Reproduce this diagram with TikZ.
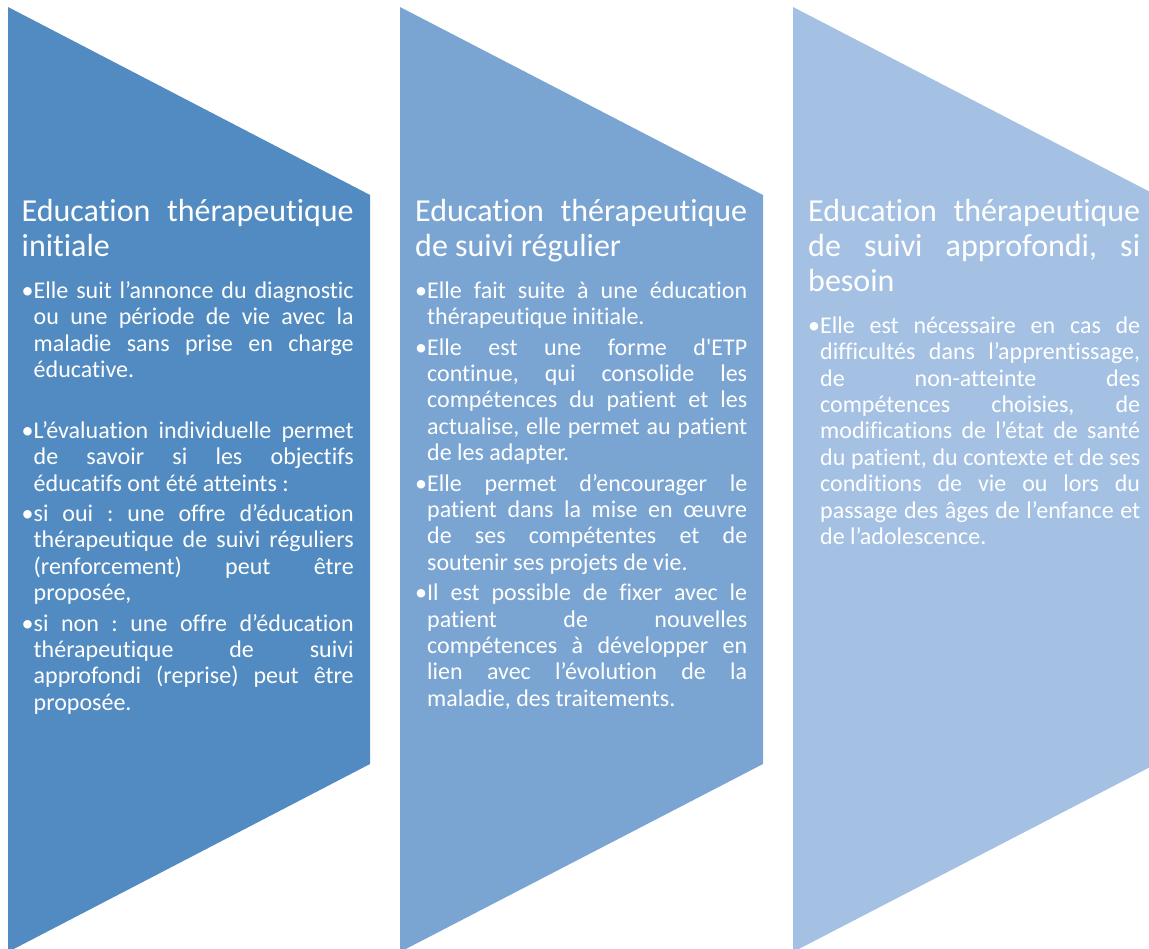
\documentclass[tikz,border=0pt]{standalone}
\usepackage{fontspec}
\setmainfont{Carlito}[Ligatures={TeXOff,NoCommon}]
\definecolor{shA}{RGB}{82,139,193}
\definecolor{shB}{RGB}{122,165,210}
\definecolor{shC}{RGB}{164,193,228}
\newcommand\zTJ[1]{\hbox to\hsize{\spaceskip=\fontdimen2\font plus 1fil\relax#1}}
\newcommand\zTN[1]{\hbox{#1}}
\newcommand\zBJ[1]{\hbox to\hsize{\hskip12pt\spaceskip=\fontdimen2\font plus 1fil\relax#1}}
\newcommand\zBN[1]{\hbox{\hskip12pt#1}}
\newcommand\zBul{\hbox to 12pt{•\hss}}
\newcommand\zFJ[1]{\hbox to\hsize{\zBul\spaceskip=\fontdimen2\font plus 1fil\relax#1}}
\newcommand\zFN[1]{\hbox{\zBul#1}}
\newcommand\zTitle{\fontsize{32}{35}\selectfont}
\newcommand\zBody{\fontsize{24}{26.4}\selectfont}
\tikzset{
  chev/.style={draw=none},
  coltext/.style={anchor=base west, inner sep=0pt, text=white}
}
\frenchspacing
\begin{document}
\frenchspacing
\begin{tikzpicture}[x=1pt,y=-1pt]
\useasboundingbox (0,0) rectangle (1149,949);
\clip (0,0) rectangle (1149,949);
\fill[shA] (8,7) -- (370,195) -- (370,764) -- (8,952) -- cycle;
\fill[shB] (400,7) -- (763,195) -- (763,764) -- (400,952) -- cycle;
\fill[shC] (793,7) -- (1156,195) -- (1156,764) -- (793,952) -- cycle;

\node[coltext] (c1) at (21.5,222) {\parbox[t]{332pt}{%
\frenchspacing
\zTitle
\zTJ{Education thérapeutique}
\zTN{initiale}
\zBody
\vskip15pt
\zFJ{Elle suit l’annonce du diagnostic}
\zBJ{ou une période de vie avec la}
\zBJ{maladie sans prise en charge}
\zBN{éducative.}
\vskip34.4pt
\zFJ{L’évaluation individuelle permet}
\zBJ{de savoir si les objectifs}
\zBN{éducatifs ont été atteints :}
\vskip4pt
\zFJ{si oui : une offre d’éducation}
\zBJ{thérapeutique de suivi réguliers}
\zBJ{(renforcement) peut être}
\zBN{proposée,}
\vskip4pt
\zFJ{si non : une offre d’éducation}
\zBJ{thérapeutique de suivi}
\zBJ{approfondi (reprise) peut être}
\zBN{proposée.}
}};

\node[coltext] (c2) at (415,222) {\parbox[t]{332pt}{%
\frenchspacing
\zTitle
\zTJ{Education thérapeutique}
\zTN{de suivi régulier}
\zBody
\vskip15pt
\zFJ{Elle fait suite à une éducation}
\zBN{thérapeutique initiale.}
\vskip4pt
\zFJ{Elle est une forme d'ETP}
\zBJ{continue, qui consolide les}
\zBJ{compétences du patient et les}
\zBJ{actualise, elle permet au patient}
\zBN{de les adapter.}
\vskip4pt
\zFJ{Elle permet d’encourager le}
\zBJ{patient dans la mise en œuvre}
\zBJ{de ses compétentes et de}
\zBN{soutenir ses projets de vie.}
\vskip4pt
\zFJ{Il est possible de fixer avec le}
\zBJ{patient de nouvelles}
\zBJ{compétences à développer en}
\zBJ{lien avec l’évolution de la}
\zBN{maladie, des traitements.}
}};

\node[coltext] (c3) at (808,222) {\parbox[t]{332pt}{%
\frenchspacing
\zTitle
\zTJ{Education thérapeutique}
\zTJ{de suivi approfondi, si}
\zTN{besoin}
\zBody
\vskip15pt
\zFJ{Elle est nécessaire en cas de}
\zBJ{difficultés dans l’apprentissage,}
\zBJ{de non-atteinte des}
\zBJ{compétences choisies, de}
\zBJ{modifications de l’état de santé}
\zBJ{du patient, du contexte et de ses}
\zBJ{conditions de vie ou lors du}
\zBJ{passage des âges de l’enfance et}
\zBN{de l’adolescence.}
}};
\end{tikzpicture}
\end{document}
